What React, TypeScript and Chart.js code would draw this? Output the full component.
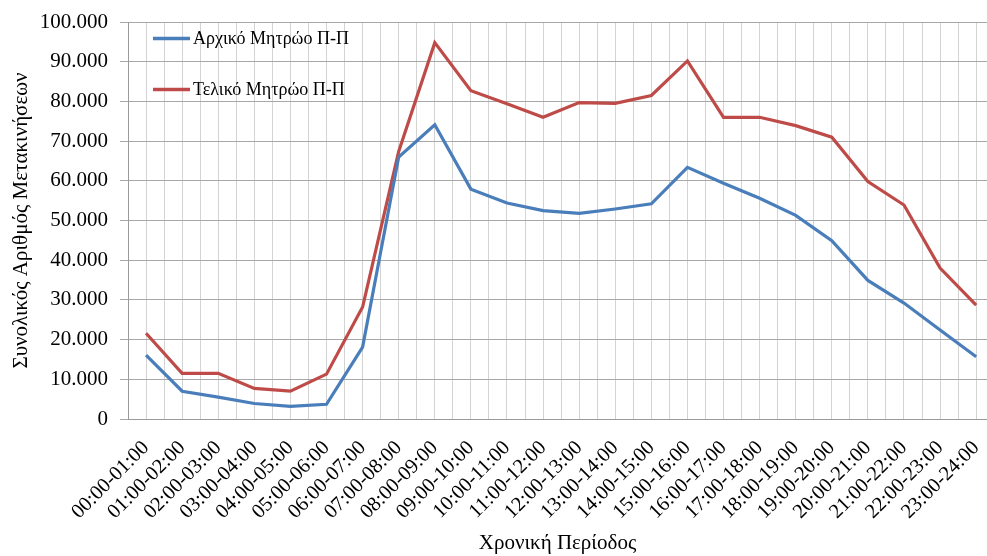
import React, { useEffect, useRef } from 'react';
import { Chart, registerables } from 'chart.js';

Chart.register(...registerables);

const categories = [
  '00:00-01:00', '01:00-02:00', '02:00-03:00', '03:00-04:00', '04:00-05:00', '05:00-06:00',
  '06:00-07:00', '07:00-08:00', '08:00-09:00', '09:00-10:00', '10:00-11:00', '11:00-12:00',
  '12:00-13:00', '13:00-14:00', '14:00-15:00', '15:00-16:00', '16:00-17:00', '17:00-18:00',
  '18:00-19:00', '19:00-20:00', '20:00-21:00', '21:00-22:00', '22:00-23:00', '23:00-24:00',
];

const initialMatrix = [
  16100, 7000, 5500, 3900, 3200, 3700, 18100, 66000, 74100, 57900, 54400, 52500,
  51800, 52900, 54200, 63400, 59400, 55600, 51300, 44900, 34900, 29200, 22400, 15700,
];

const finalMatrix = [
  21600, 11500, 11500, 7700, 7000, 11300, 28200, 67400, 94800, 82700, 79400, 76000,
  79700, 79500, 81500, 90200, 76000, 76000, 73900, 71000, 59800, 53900, 38000, 28700,
];

const seriesNames = ['Αρχικό Μητρώο Π-Π', 'Τελικό Μητρώο Π-Π'];
const seriesColors = ['#4a7ebb', '#be4b48'];
const yMin = 0;
const yMax = 100000;
const yStep = 10000;
const yTitle = 'Συνολικός Αριθμός Μετακινήσεων';
const xTitle = 'Χρονική Περίοδος';

const FONT = '"Liberation Serif", "Times New Roman", serif';

const formatThousands = (v: number) =>
  Math.round(v).toString().replace(/\B(?=(\d{3})+(?!\d))/g, '.');

const insideLegend = {
  id: 'insideLegend',
  afterDatasetsDraw(chart: any) {
    const { ctx, chartArea } = chart;
    ctx.save();
    ctx.font = `18px ${FONT}`;
    ctx.textBaseline = 'middle';
    ctx.textAlign = 'left';
    chart.data.datasets.forEach((ds: any, i: number) => {
      const y = chartArea.top + 16.5 + i * 51;
      const x0 = chartArea.left + 25;
      ctx.strokeStyle = ds.borderColor;
      ctx.lineWidth = 3.5;
      ctx.beginPath();
      ctx.moveTo(x0, y);
      ctx.lineTo(x0 + 37, y);
      ctx.stroke();
      ctx.fillStyle = '#000';
      ctx.fillText(ds.label, x0 + 40, y + 1);
    });
    ctx.restore();
  },
};

export default function App() {
  const canvasRef = useRef<HTMLCanvasElement | null>(null);

  useEffect(() => {
    document.body.style.margin = '0';
    const canvas = canvasRef.current;
    if (!canvas) return;
    const series = [initialMatrix, finalMatrix];
    const chart = new Chart(canvas, {
      type: 'line',
      data: {
        datasets: series.map((vals, s) => ({
          label: seriesNames[s],
          data: vals.map((v, i) => ({ x: i, y: v })),
          borderColor: seriesColors[s],
          backgroundColor: seriesColors[s],
          borderWidth: 3.2,
          pointRadius: 0,
          tension: 0,
          fill: false,
        })),
      },
      plugins: [insideLegend],
      options: {
        animation: false,
        responsive: true,
        maintainAspectRatio: false,
        layout: { padding: { top: 22, left: 0, right: 0, bottom: 0 } },
        plugins: {
          legend: { display: false },
          tooltip: { enabled: false },
        },
        scales: {
          x: {
            type: 'linear',
            min: -0.5,
            max: categories.length - 1 + 0.3,
            afterBuildTicks: (scale: any) => {
              const t: any[] = [];
              categories.forEach((_, i) => {
                t.push({ value: i - 0.5 });
                t.push({ value: i });
              });
              scale.ticks = t;
            },
            afterFit: (scale: any) => {
              scale.height = 137;
              scale.paddingLeft = 0;
              scale.paddingRight = 0;
            },
            grid: {
              color: '#d3d3d3',
              lineWidth: 1,
              drawTicks: false,
            },
            border: { display: true, color: '#9a9a9a', width: 1 },
            ticks: {
              autoSkip: false,
              minRotation: 45,
              maxRotation: 45,
              padding: 17,
              color: '#000',
              font: { family: FONT, size: 20.5 },
              callback: (value: any) =>
                Number.isInteger(value) ? categories[value] : '',
            },
            title: {
              display: true,
              text: xTitle,
              color: '#000',
              font: { family: FONT, size: 21 },
              padding: { top: 0, bottom: 0 },
            },
          },
          y: {
            min: yMin,
            max: yMax,
            afterFit: (scale: any) => {
              scale.width = 128;
              scale.paddingTop = 0;
              scale.paddingBottom = 0;
            },
            grid: {
              color: '#a8a8a8',
              lineWidth: 1,
              drawTicks: true,
              tickLength: 8,
            },
            border: { display: true, color: '#9a9a9a', width: 1 },
            ticks: {
              stepSize: yStep,
              padding: 12,
              color: '#000',
              font: { family: FONT, size: 21 },
              callback: (value: any) => formatThousands(Number(value)),
            },
            title: {
              display: true,
              text: yTitle,
              color: '#000',
              font: { family: FONT, size: 21 },
              padding: { top: 9, bottom: 0 },
            },
          },
        },
      },
    });
    return () => chart.destroy();
  }, []);

  return (
    <div style={{ width: 987, height: 556, position: 'relative', background: '#fff' }}>
      <canvas ref={canvasRef} />
    </div>
  );
}
